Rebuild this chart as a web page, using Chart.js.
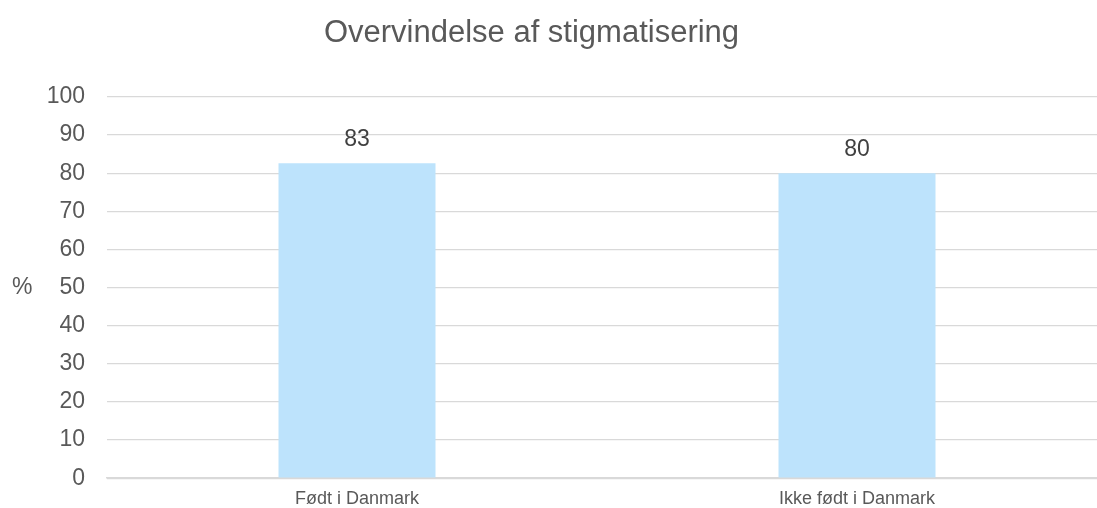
<!DOCTYPE html>
<html>
<head>
<meta charset="utf-8">
<script src="https://cdn.jsdelivr.net/npm/chart.js@4"></script>
<style>
  html, body { margin: 0; padding: 0; background: #fff; overflow: hidden; }
  .wrap { position: relative; width: 1110px; height: 508px; overflow: hidden; }
  .chart-box { position: absolute; left: 0; top: 0; width: 1110px; height: 514px; }
  .chart-title {
    position: absolute; left: 0; top: 16px; width: 1063px; z-index: 2;
    text-align: center; font: 31px/31px "Liberation Sans", Arial, sans-serif; color: #595959;
  }
  .y-title {
    position: absolute; left: 12px; top: 275px; z-index: 2;
    font: 23px/23px "Liberation Sans", Arial, sans-serif; color: #595959;
  }
</style>
</head>
<body>
<div class="wrap">
  <div class="chart-box"><canvas id="stigma_chart"></canvas></div>
  <div class="chart-title">Overvindelse af stigmatisering</div>
  <div class="y-title">%</div>
</div>
<script>
  const categories = ['Født i Danmark', 'Ikke født i Danmark'];
  const values = [82.6, 80];
  const yTicks = [0, 10, 20, 30, 40, 50, 60, 70, 80, 90, 100];

  // værdier over søjlerne
  const barLabels = {
    id: 'barLabels',
    afterDatasetsDraw(chart) {
      const ctx = chart.ctx;
      ctx.save();
      ctx.font = '23px "Liberation Sans", Arial, sans-serif';
      ctx.fillStyle = '#404040';
      ctx.textAlign = 'center';
      ctx.textBaseline = 'alphabetic';
      chart.getDatasetMeta(0).data.forEach(function(bar, i) {
        ctx.fillText(Math.round(values[i]), bar.x, bar.y - 17);
      });
      ctx.restore();
    }
  };

  const stigma_chart = new Chart(document.getElementById('stigma_chart'), {
    type: 'bar',
    data: {
      labels: categories,
      datasets: [{
        data: values,
        backgroundColor: 'rgb(189, 227, 252)',
        barPercentage: 0.314,
        categoryPercentage: 1
      }]
    },
    options: {
      responsive: true,
      maintainAspectRatio: false,
      animation: false,
      layout: { padding: { top: 97, right: 3, left: 0, bottom: 0 } },
      plugins: {
        legend: { display: false },
        tooltip: { enabled: false }
      },
      scales: {
        x: {
          grid: { display: false, drawTicks: false },
          border: { color: '#d9d9d9', width: 1.5 },
          ticks: {
            color: '#595959',
            padding: 10,
            font: { family: '"Liberation Sans", Arial, sans-serif', size: 18 }
          },
          afterFit: function(scale) { scale.height = 30; }
        },
        y: {
          min: 0,
          max: 100,
          afterBuildTicks: function(scale) {
            scale.ticks = yTicks.map(function(v) { return { value: v }; });
          },
          grid: { color: '#d9d9d9', lineWidth: 1.3, drawTicks: false },
          border: { display: false },
          ticks: {
            color: '#595959',
            padding: 22,
            font: { family: '"Liberation Sans", Arial, sans-serif', size: 23 }
          },
          afterFit: function(scale) { scale.width = 107; }
        }
      }
    },
    plugins: [barLabels]
  });
</script>
</body>
</html>
